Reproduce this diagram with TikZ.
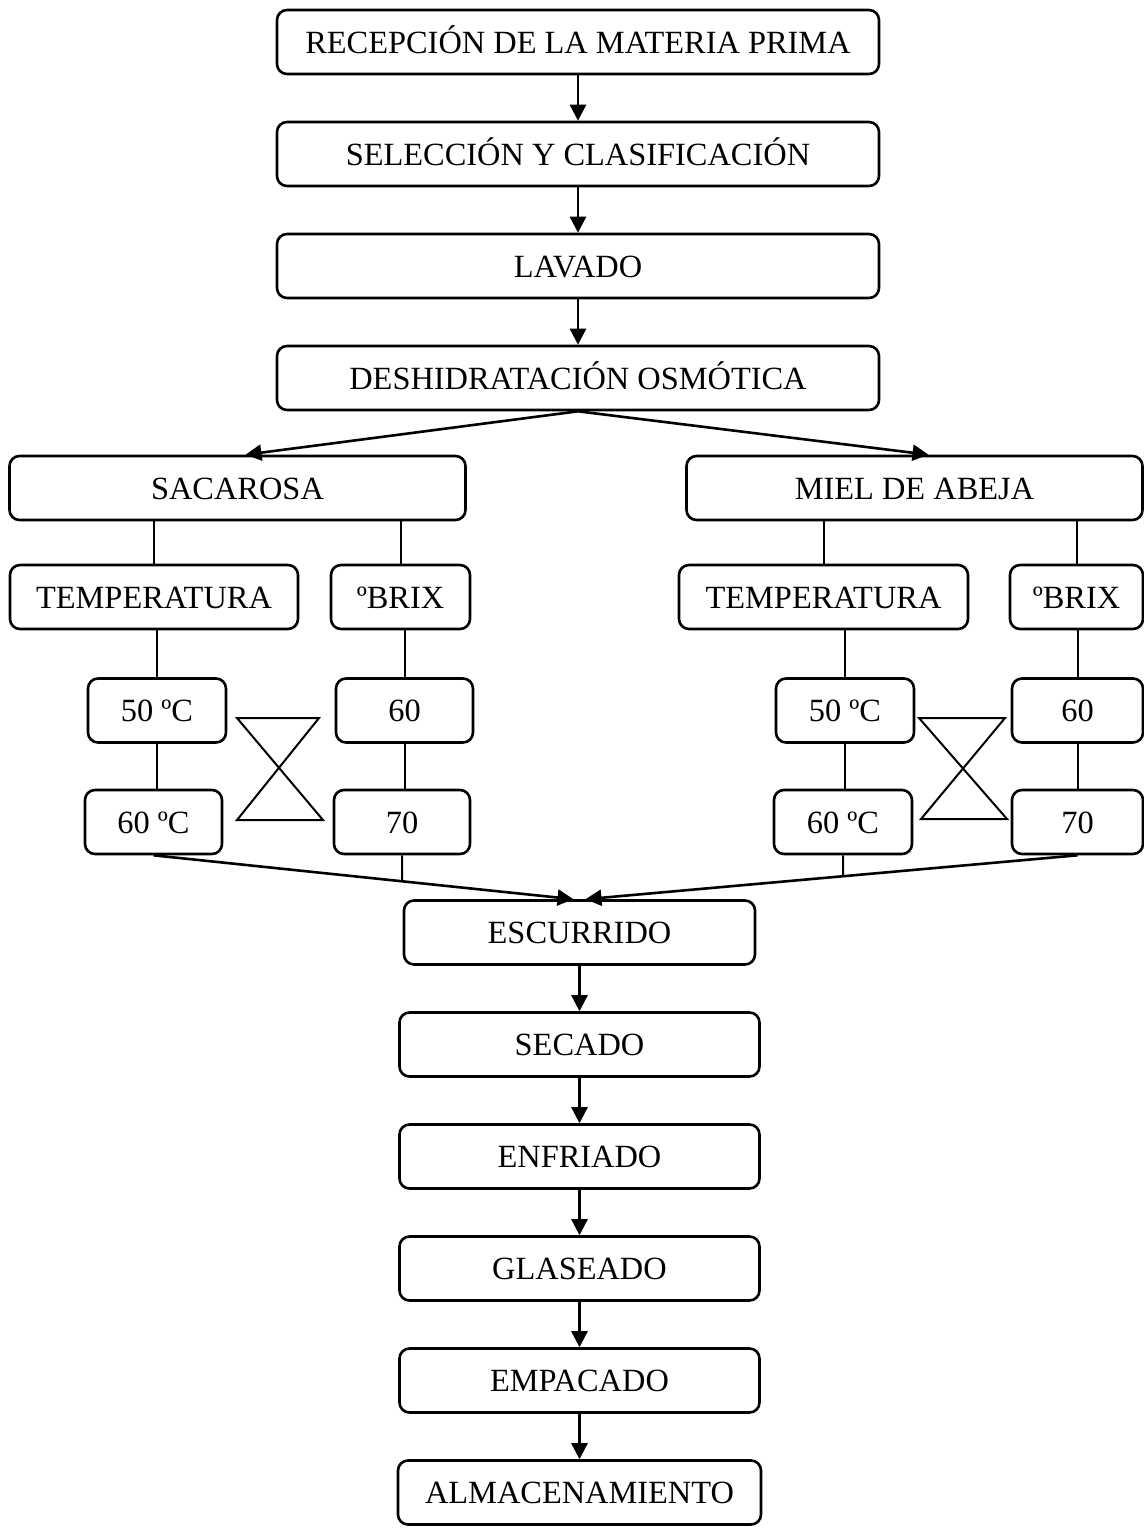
\documentclass[tikz,border=0pt]{standalone}
\usepackage{fontspec}
\setmainfont{Liberation Serif}
\usepackage{tikz}
\usetikzlibrary{
  arrows.meta,
  positioning,
  calc
}
\tikzset{
  stepbox/.style={
    draw, line width=1.3pt, rounded corners=5pt,
    minimum height=32pt, inner sep=2pt, align=center,
    font=\fontsize{16.2}{19}\selectfont, text height=11pt, text depth=0pt
  },
  mainbox/.style={stepbox, minimum width=301pt},
  endbox/.style={stepbox, minimum width=180pt},
  branchbox/.style={stepbox, minimum width=228pt},
  valbox/.style={stepbox, minimum width=#1},
  flow/.style={-{Triangle[length=8pt,width=8pt]}, line width=1.3pt},
  link/.style={line width=1pt},
}

\begin{document}
\begin{tikzpicture}[x=1pt, y=1pt, node distance=22.7pt]

\useasboundingbox (0,0) rectangle (572,-764);

% ── Etapas iniciales ──────────────────────────────────────────────────────────
\node[mainbox] (recep) at (289,-21) {RECEPCIÓN DE LA MATERIA PRIMA};
\node[mainbox, below=of recep]  (selec)  {SELECCIÓN Y CLASIFICACIÓN};
\node[mainbox, below=of selec]  (lavado) {LAVADO};
\node[mainbox, below=of lavado] (deshid) {DESHIDRATACIÓN OSMÓTICA};

% ── Agentes osmóticos ─────────────────────────────────────────────────────────
\node[branchbox] (sacar) at (118.75,-244) {SACAROSA};
\node[branchbox] (miel)  at (457.25,-244) {MIEL DE ABEJA};

% ── Variables: sacarosa ───────────────────────────────────────────────────────
\node[valbox=144pt]  (tempa) at (77,-298.5)     {TEMPERATURA};
\node[valbox=69.5pt] (brixa) at (200.25,-298.5) {ºBRIX};
\node[valbox=69pt]   (t50a)  at (78.5,-355.25)  {50 ºC};
\node[valbox=68.5pt] (b60a)  at (202.25,-355.25){60};
\node[valbox=68.5pt] (t60a)  at (76.75,-411)    {60 ºC};
\node[valbox=68pt]   (b70a)  at (201,-411)      {70};

% ── Variables: miel de abeja ──────────────────────────────────────────────────
\node[valbox=144.5pt] (tempb) at (411.75,-298.5) {TEMPERATURA};
\node[valbox=66.5pt]  (brixb) at (538.25,-298.5) {ºBRIX};
\node[valbox=69pt]    (t50b)  at (422.5,-355.25) {50 ºC};
\node[valbox=65.5pt]  (b60b)  at (538.75,-355.25){60};
\node[valbox=69pt]    (t60b)  at (421.5,-411)    {60 ºC};
\node[valbox=65.5pt]  (b70b)  at (538.75,-411)   {70};

% ── Etapas finales ────────────────────────────────────────────────────────────
\node[valbox=175.5pt] (escur) at (289.75,-466.25) {ESCURRIDO};
\node[endbox, below=of escur]  (secado) {SECADO};
\node[endbox, below=of secado] (enfri)  {ENFRIADO};
\node[endbox, below=of enfri]  (glase)  {GLASEADO};
\node[endbox, below=of glase]  (empac)  {EMPACADO};
\node[endbox, minimum width=181.5pt, below=of empac] (almac) {ALMACENAMIENTO};

% ── Flechas verticales ────────────────────────────────────────────────────────
\foreach \a/\b in {recep/selec, selec/lavado, lavado/deshid,
                   escur/secado, secado/enfri, enfri/glase,
                   glase/empac, empac/almac}
  \draw[flow] (\a.south) -- (\a.south |- \b.north);

% ── Bifurcación ───────────────────────────────────────────────────────────────
\draw[flow] (deshid.south) -- ($(sacar.north)+(4,0)$);
\draw[flow] (deshid.south) -- ($(miel.north)+(7,0)$);

% ── Uniones sacarosa ──────────────────────────────────────────────────────────
\draw[link] (sacar.south -| tempa) -- (tempa.north);
\draw[link] (sacar.south -| brixa) -- (brixa.north);
\draw[link] (tempa.south -| t50a) -- (t50a.north);
\draw[link] (t50a.south) -- (t50a.south |- t60a.north);
\draw[link] (brixa.south -| b60a) -- (b60a.north);
\draw[link] (b60a.south) -- (b60a.south |- b70a.north);

% ── Uniones miel de abeja ─────────────────────────────────────────────────────
\draw[link] (miel.south -| tempb) -- (tempb.north);
\draw[link] (miel.south -| brixb) -- (brixb.north);
\draw[link] (tempb.south -| t50b) -- (t50b.north);
\draw[link] (t50b.south) -- (t50b.south |- t60b.north);
\draw[link] (brixb.south -| b60b) -- (b60b.north);
\draw[link] (b60b.south) -- (b60b.south |- b70b.north);

% ── Combinaciones (reloj de arena) ────────────────────────────────────────────
\draw[link] (118.5,-359) -- (159.5,-359) -- (118.5,-410) -- (161.5,-410) -- cycle;
\draw[link] (459.5,-359) -- (502.5,-359) -- (460.5,-409.5) -- (503.5,-409.5) -- cycle;

% ── Convergencia hacia escurrido ──────────────────────────────────────────────
\coordinate (jl) at ($(escur.north)+(-3,0)$);
\coordinate (jr) at ($(escur.north)+(3,0)$);
\draw[flow] (t60a.south) -- (jl);
\draw[flow] (b70b.south) -- (jr);
\draw[link] (b70a.south) -- (intersection of b70a.south--b70a.north and t60a.south--jl);
\draw[link] (t60b.south) -- (intersection of t60b.south--t60b.north and b70b.south--jr);

\end{tikzpicture}
\end{document}
